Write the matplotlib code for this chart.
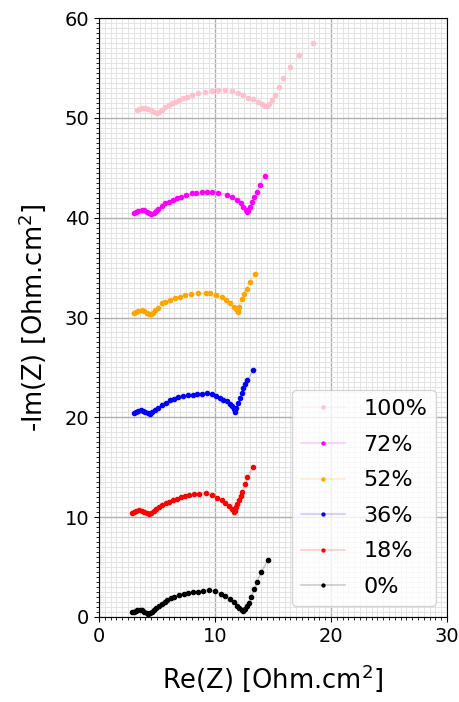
import matplotlib
matplotlib.use("Agg")
import matplotlib.pyplot as plt
from matplotlib.ticker import MultipleLocator

labels = ["100%", "72%", "52%", "36%", "18%", "0%"]
colors = ["pink", "magenta", "orange", "blue", "red", "black"]

# Re(Z) / -Im(Z) (already stacked with +10 offsets)
x_100 = [3.25, 3.45, 3.7, 3.97, 4.2, 4.45, 4.7, 4.97, 5.2, 5.45, 5.7, 6.0, 6.25, 6.55, 6.9, 7.25,
         7.6, 8.0, 8.5, 9.14, 9.7, 10.29, 10.9, 11.44, 12.0, 12.45, 12.87, 13.3, 13.7, 14.05, 14.3,
         14.45, 14.65, 14.9, 15.17, 15.5, 15.9, 16.47, 17.24, 18.47]
y_100 = [50.75, 50.85, 50.95, 50.98, 50.9, 50.75, 50.6, 50.47, 50.6, 50.8, 51.05, 51.25, 51.45, 51.6,
         51.8, 51.95, 52.1, 52.3, 52.45, 52.6, 52.7, 52.8, 52.8, 52.7, 52.5, 52.3, 52.0, 51.85, 51.6,
         51.35, 51.2, 51.15, 51.4, 51.8, 52.3, 53.1, 53.97, 55.1, 56.3, 57.46]

x_72 = [3.05, 3.2, 3.4, 3.67, 3.9, 4.1, 4.3, 4.5, 4.7, 4.9, 5.1, 5.4, 5.69, 6.0, 6.35, 6.7, 7.1,
        7.5, 8.0, 8.4, 8.85, 9.3, 9.7, 10.3, 11.0, 11.5, 11.87, 12.2, 12.45, 12.65, 12.73, 12.85,
        13.0, 13.16, 13.4, 13.6, 13.88, 14.3]
y_72 = [40.45, 40.6, 40.7, 40.78, 40.72, 40.55, 40.42, 40.38, 40.5, 40.7, 40.9, 41.15, 41.45, 41.6,
        41.8, 41.95, 42.1, 42.25, 42.45, 42.5, 42.6, 42.6, 42.6, 42.5, 42.3, 42.05, 41.8, 41.45,
        41.05, 40.75, 40.6, 40.7, 41.1, 41.6, 42.1, 42.6, 43.3, 44.2]

x_52 = [3.05, 3.2, 3.4, 3.67, 3.9, 4.1, 4.3, 4.47, 4.65, 4.85, 5.1, 5.4, 5.7, 6.1, 6.55, 6.95,
        7.4, 7.9, 8.56, 9.2, 9.57, 10.1, 10.57, 10.95, 11.3, 11.6, 11.8, 11.95, 12.0, 12.1, 12.3,
        12.5, 12.73, 13.0, 13.45]
y_52 = [30.43, 30.6, 30.7, 30.76, 30.68, 30.5, 30.4, 30.36, 30.5, 30.75, 31.0, 31.43, 31.6, 31.8,
        31.99, 32.1, 32.26, 32.35, 32.43, 32.45, 32.43, 32.3, 32.1, 31.8, 31.43, 31.1, 30.85, 30.65,
        30.6, 31.1, 31.9, 32.4, 32.9, 33.6, 34.4]

x_36 = [3.05, 3.2, 3.4, 3.6, 3.8, 4.0, 4.2, 4.4, 4.6, 4.83, 5.1, 5.4, 5.75, 6.1, 6.45, 6.8, 7.2,
        7.7, 8.1, 8.45, 8.9, 9.28, 9.7, 10.05, 10.4, 10.7, 11.0, 11.25, 11.5, 11.65, 11.72, 11.85,
        12.0, 12.15, 12.3, 12.4, 12.6, 12.8, 13.3]
y_36 = [20.4, 20.55, 20.65, 20.7, 20.65, 20.5, 20.4, 20.34, 20.5, 20.74, 20.95, 21.2, 21.45, 21.7,
        21.85, 22.0, 22.1, 22.2, 22.25, 22.3, 22.35, 22.4, 22.3, 22.1, 21.9, 21.75, 21.6, 21.35,
        21.1, 20.8, 20.57, 20.9, 21.4, 21.9, 22.4, 22.9, 23.3, 23.7, 24.7]

x_18 = [2.85, 3.0, 3.2, 3.45, 3.7, 3.9, 4.1, 4.3, 4.5, 4.7, 4.95, 5.2, 5.45, 5.75, 6.05, 6.35,
        6.7, 7.05, 7.4, 7.8, 8.2, 8.6, 9.2, 9.7, 10.2, 10.6, 10.9, 11.2, 11.45, 11.6, 11.7, 11.8,
        11.9, 12.05, 12.2, 12.35, 12.6, 12.8, 13.3]
y_18 = [10.4, 10.5, 10.6, 10.7, 10.65, 10.5, 10.4, 10.35, 10.45, 10.65, 10.85, 11.0, 11.2, 11.4,
        11.55, 11.7, 11.85, 12.0, 12.1, 12.2, 12.3, 12.35, 12.4, 12.25, 11.95, 11.7, 11.45, 11.15,
        10.8, 10.55, 10.65, 11.0, 11.3, 11.7, 12.1, 12.55, 13.3, 14.0, 15.0]

x_0 = [2.85, 3.0, 3.15, 3.3, 3.5, 3.7, 3.9, 4.1, 4.25, 4.4, 4.55, 4.75, 4.95, 5.15, 5.4, 5.65,
       5.9, 6.2, 6.5, 6.9, 7.3, 7.7, 8.1, 8.5, 9.0, 9.5, 10.0, 10.5, 10.9, 11.3, 11.6, 11.9, 12.1,
       12.3, 12.45, 12.6, 12.75, 12.9, 13.1, 13.4, 13.6, 14.0, 14.55]
y_0 = [0.5, 0.55, 0.6, 0.7, 0.75, 0.7, 0.55, 0.4, 0.3, 0.4, 0.55, 0.75, 0.95, 1.1, 1.3, 1.5, 1.7,
       1.9, 2.05, 2.25, 2.35, 2.4, 2.5, 2.55, 2.65, 2.7, 2.6, 2.35, 2.1, 1.8, 1.5, 1.15, 0.9, 0.7,
       0.65, 0.8, 1.1, 1.45, 2.0, 2.8, 3.5, 4.5, 5.7]

xs = [x_100, x_72, x_52, x_36, x_18, x_0]
ys = [y_100, y_72, y_52, y_36, y_18, y_0]

fig = plt.figure(figsize=(4.59, 7.02), dpi=100)
ax = fig.add_axes([99 / 459, 1 - 617 / 702, 348 / 459, 599 / 702])

for x, y, c, lab in zip(xs, ys, colors, labels):
    rgba = matplotlib.colors.to_rgba(c, 0.2)
    ax.plot(x, y, ".-", color=rgba, markerfacecolor=c, markeredgecolor=c,
            markersize=6, lw=1.2, label=lab)

ax.set_xlim(0, 30)
ax.set_ylim(0, 60)
ax.xaxis.set_major_locator(MultipleLocator(10))
ax.yaxis.set_major_locator(MultipleLocator(10))
ax.xaxis.set_minor_locator(MultipleLocator(0.5))
ax.yaxis.set_minor_locator(MultipleLocator(0.5))
ax.grid(which="major", color="#b0b0b0", lw=1)
ax.grid(which="minor", color="#e3e3e3", lw=0.7)
ax.tick_params(labelsize=14)
ax.set_xlabel("Re(Z) [Ohm.cm$^2$]", fontsize=18.5, labelpad=12)
ax.set_ylabel("-Im(Z) [Ohm.cm$^2$]", fontsize=18.5, labelpad=12)

ax.legend(loc="lower right", fontsize=16, labelspacing=0.7, markerscale=0.7)

fig.savefig("out.png", dpi=100)
